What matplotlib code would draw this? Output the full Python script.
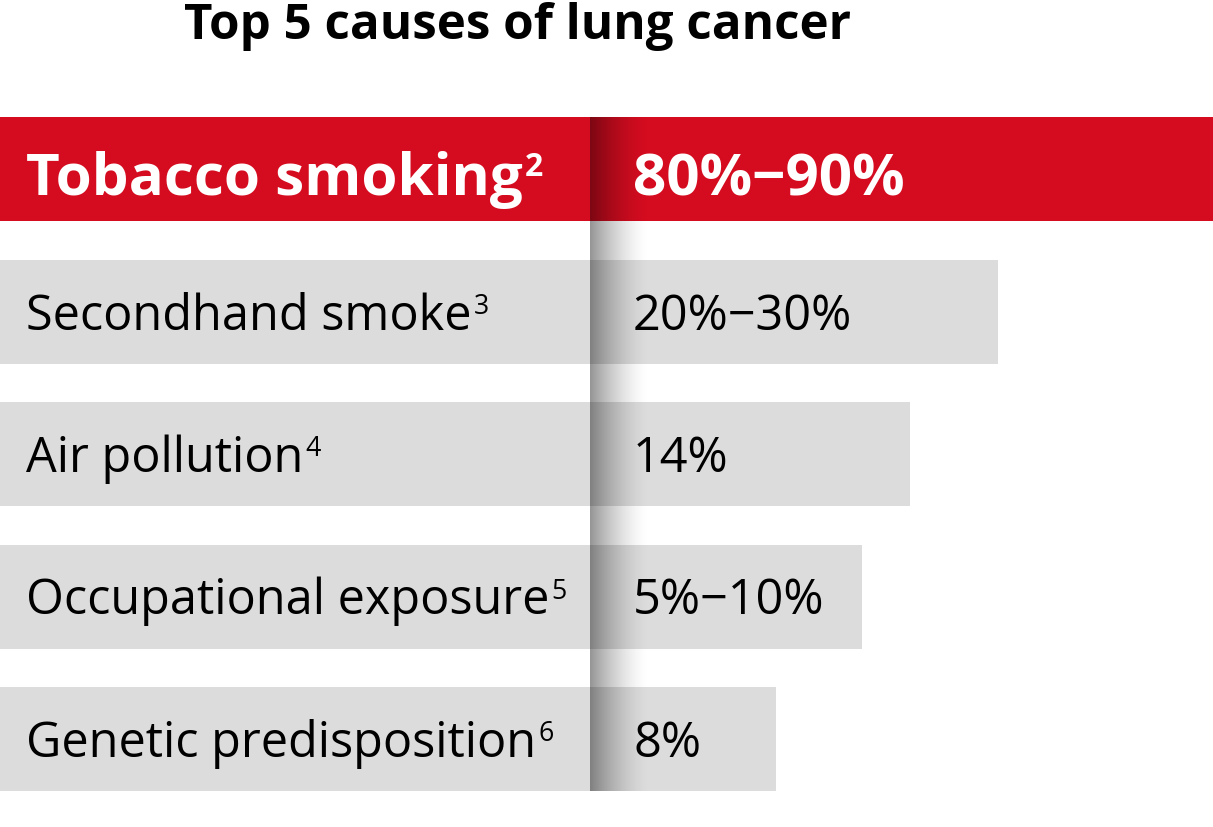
import numpy as np
import matplotlib.pyplot as plt

plt.rcParams['font.family'] = ['Open Sans', 'DejaVu Sans']

title = "Top 5 causes of lung cancer"
causes = ["Tobacco smoking", "Secondhand smoke", "Air pollution",
          "Occupational exposure", "Genetic predisposition"]
refs = ["2", "3", "4", "5", "6"]
shares = ["80%\u221290%", "20%\u221230%", "14%", "5%\u221210%", "8%"]
# bar lengths as drawn in the graphic (pixels of the 1213 px wide figure)
bar_lengths = [1213, 998, 910, 862, 776]

RED = "#d50c20"
GRAY = "#dcdcdc"


def main():
    fig = plt.figure(figsize=(12.13, 8.27), dpi=100)
    ax = fig.add_axes([0, 0, 1, 1])

    rows = 169 + 142.5 * np.arange(len(causes))
    colors = [RED] + [GRAY] * (len(causes) - 1)
    ax.barh(rows, bar_lengths, height=104, left=0, color=colors, zorder=1)

    # shadow strip down the column divider
    t = np.linspace(0, 1, 200)
    grad = np.zeros((1, len(t), 4))
    grad[0, :, 3] = 0.42 * (1 - t) ** 1.6
    ax.imshow(grad, extent=(590, 650, rows[-1] + 52, rows[0] - 52),
              aspect="auto", zorder=2, interpolation="bilinear")
    ax.set_xlim(0, 1213)
    ax.set_ylim(827, 0)
    ax.axis("off")

    ax.text(517, 39, title, ha="center", va="baseline", fontsize=35.5,
            fontweight="bold", color="black")

    fig.canvas.draw()
    renderer = fig.canvas.get_renderer()
    inv = ax.transData.inverted()
    for i, (cause, ref, share) in enumerate(zip(causes, refs, shares)):
        first = i == 0
        col = "white" if first else "black"
        wt = "bold" if first else "normal"
        size = 42 if first else 35
        base = rows[i] + (26 if first else 18)
        cap = size * 0.714 * 100 / 72
        t1 = ax.text(26, base, cause, ha="left", va="baseline", fontsize=size,
                     fontweight=wt, color=col, zorder=3)
        bb = t1.get_window_extent(renderer)
        x_end = inv.transform((bb.x1, bb.y1))[0]
        ax.text(x_end + 2, base - cap - 2, ref, ha="left", va="top",
                fontsize=size * 0.55, fontweight=wt, color=col, zorder=3)
        ax.text(633, base, share, ha="left", va="baseline", fontsize=size,
                fontweight=wt, color=col, zorder=3)

    fig.savefig("out.png", dpi=100)


if __name__ == "__main__":
    main()
